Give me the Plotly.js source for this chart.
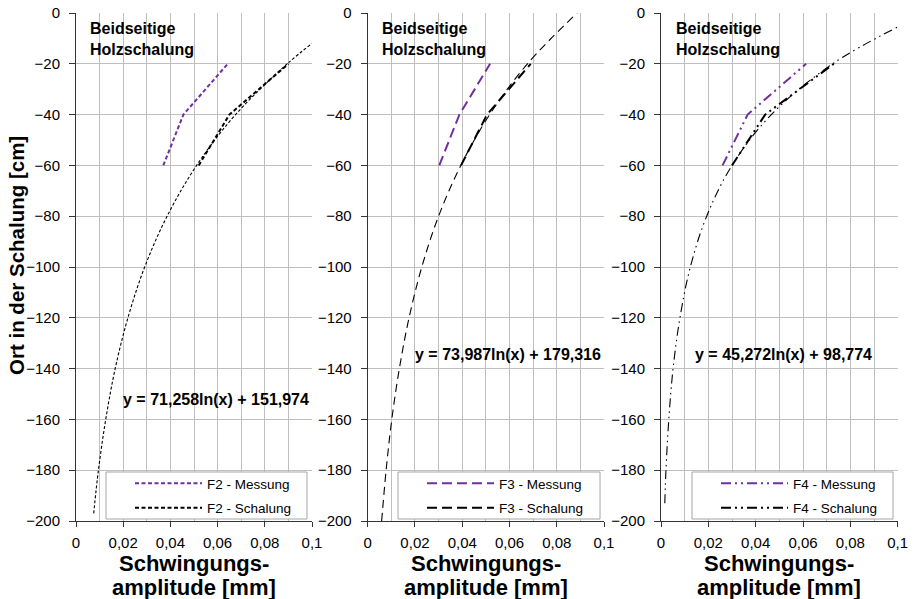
<!DOCTYPE html>
<html><head><meta charset="utf-8">
<script src="https://cdn.plot.ly/plotly-3.0.1.min.js"></script>
<style>html,body{margin:0;padding:0;background:#fff}#chart{width:914px;height:599px}</style>
</head><body><div id="chart"></div>
<script>
// ---- data ----
const depthLevels = [-60, -40, -20];          // Ort in der Schalung [cm]
const f2Messung  = [0.0370, 0.0455, 0.0643];
const f2Schalung = [0.0520, 0.0650, 0.0900];
const f3Messung  = [0.0303, 0.0388, 0.0518];
const f3Schalung = [0.0395, 0.0505, 0.0690];
const f4Messung  = [0.0260, 0.0366, 0.0613];
const f4Schalung = [0.0300, 0.0440, 0.0730];

// trend curves (log fits)
const trendF2Y = [-197, -180, -160, -140, -120, -100, -80, -60, -40, -20, -12];
const trendF2X = [0.0075, 0.0095, 0.0126, 0.0166, 0.0220, 0.0291, 0.0386, 0.0511, 0.0676, 0.0895, 0.1000];
const trendF3Y = [-200, -180, -160, -140, -120, -100, -80, -60, -40, -20, 0];
const trendF3X = [0.0059, 0.0078, 0.0102, 0.0134, 0.0175, 0.0229, 0.0300, 0.0394, 0.0516, 0.0676, 0.0886];
const trendF4Y = [-193, -180, -160, -140, -120, -100, -80, -60, -40, -20, -5.5];
const trendF4X = [0.0016, 0.0021, 0.0033, 0.0051, 0.0080, 0.0124, 0.0193, 0.0300, 0.0466, 0.0725, 0.1000];

const seriesNames = [["F2 - Messung","F2 - Schalung"],["F3 - Messung","F3 - Schalung"],["F4 - Messung","F4 - Schalung"]];
const equations = ["y = 71,258ln(x) + 151,974", "y = 73,987ln(x) + 179,316", "y = 45,272ln(x) + 98,774"];
const boxLabel = "Beidseitige<br>Holzschalung";
const xTitleLines = ["Schwingungs-", "amplitude [mm]"];
const yTitle = "Ort in der Schalung [cm]";

// ---- styling / layout ----
const W = 914, H = 599;
const FONT = "Liberation Sans, Arial, sans-serif";
const PURPLE = "#7030A0";
const px = v => v / W, py = v => 1 - v / H;
const xDom = [[px(76), px(312)], [px(367.7), px(604)], [px(661), px(897.7)]];
const yDom = [py(521), py(13)];
const dashes = [
  {data: "4px,2.5px", trend: "3px,2px"},
  {data: "10px,5px", trend: "8px,5px"},
  {data: "10px,4px,2px,4px,2px,4px", trend: "9px,4px,1.5px,4px,1.5px,4px"}
];
const mess = [f2Messung, f3Messung, f4Messung];
const schal = [f2Schalung, f3Schalung, f4Schalung];
const trX = [trendF2X, trendF3X, trendF4X];
const trY = [trendF2Y, trendF3Y, trendF4Y];

const traces = [];
const layout = {
  width: W, height: H,
  margin: {l: 0, r: 0, t: 0, b: 0},
  paper_bgcolor: "#fff", plot_bgcolor: "#fff",
  separators: ", ",
  font: {family: FONT, size: 15, color: "#000"},
  showlegend: true,
  shapes: [], annotations: []
};

const legBox = [[106, 307], [398, 600], [692, 893]];

for (let i = 0; i < 3; i++) {
  const sfx = i === 0 ? "" : String(i + 1);
  const xa = "x" + sfx, ya = "y" + sfx;
  const legName = "legend" + sfx;
  traces.push({
    x: trX[i], y: trY[i], xaxis: xa, yaxis: ya, mode: "lines",
    line: {color: "#000", width: 1.1, dash: dashes[i].trend, shape: "spline"},
    showlegend: false, hoverinfo: "skip"
  });
  traces.push({
    x: mess[i], y: depthLevels, xaxis: xa, yaxis: ya, mode: "lines",
    name: seriesNames[i][0], legend: legName, legendgroup: "m" + i,
    line: {color: PURPLE, width: 2, dash: dashes[i].data}
  });
  traces.push({
    x: schal[i], y: depthLevels, xaxis: xa, yaxis: ya, mode: "lines",
    name: seriesNames[i][1], legend: legName, legendgroup: "s" + i,
    line: {color: "#000", width: 2, dash: dashes[i].data}
  });

  layout["xaxis" + sfx] = {
    domain: xDom[i], anchor: ya, range: [0, 0.1], dtick: 0.02, tick0: 0,
    showgrid: true, gridcolor: "#bfbfbf", gridwidth: 1,
    minor: {dtick: 0.01, showgrid: true, gridcolor: "#bfbfbf", gridwidth: 1, ticks: ""},
    zeroline: false, showline: true, linecolor: "#333", linewidth: 1,
    ticks: "outside", ticklen: 5, tickcolor: "#333",
    ticklabelstandoff: 3,
    tickfont: {family: FONT, size: 15, color: "#000"},
    fixedrange: true
  };
  layout["yaxis" + sfx] = {
    domain: yDom, anchor: xa, range: [-200, 0], dtick: 20, tick0: 0,
    showgrid: true, gridcolor: "#bfbfbf", gridwidth: 1,
    zeroline: false, showline: true, linecolor: "#333", linewidth: 1,
    ticks: "outside", ticklen: 6, tickcolor: "#333",
    ticklabelstandoff: 6,
    tickfont: {family: FONT, size: 15, color: "#000"},
    fixedrange: true
  };

  layout.shapes.push({
    type: "rect", xref: "paper", yref: "paper",
    x0: px(legBox[i][0]), x1: px(legBox[i][1]), y0: py(519), y1: py(472),
    line: {color: "#a6a6a6", width: 1}, fillcolor: "#fff", layer: "above"
  });
  layout[legName] = {
    x: px(legBox[i][0] + 24), xanchor: "left", y: py(468), yanchor: "top",
    bgcolor: "rgba(0,0,0,0)", borderwidth: 0,
    font: {family: FONT, size: 13.5, color: "#000"},
    itemwidth: 67, tracegroupgap: 4, traceorder: "grouped"
  };

  const boxX = [88.3, 380, 674][i];
  layout.annotations.push({
    xref: "paper", yref: "paper", x: px(boxX), y: py(18), xanchor: "left", yanchor: "top",
    text: "<b>" + boxLabel + "</b>", align: "left", showarrow: false,
    font: {family: FONT, size: 16, color: "#000"}
  });
  const eqPos = [[121, 399], [413, 354], [693, 354]][i];
  layout.annotations.push({
    xref: "paper", yref: "paper", x: px(eqPos[0]), y: py(eqPos[1]), xanchor: "left", yanchor: "middle",
    text: "<b>" + equations[i] + "</b>", showarrow: false,
    font: {family: FONT, size: 16, color: "#000"}
  });
  // x-axis title, two lines (tight line spacing as in the reference)
  const cx = (xDom[i][0] + xDom[i][1]) / 2;
  [563, 587].forEach((yc, k) => {
    layout.annotations.push({
      xref: "paper", yref: "paper", x: cx, y: py(yc), xanchor: "center", yanchor: "middle",
      text: "<b>" + xTitleLines[k] + "</b>", showarrow: false,
      font: {family: FONT, size: 22, color: "#000"}
    });
  });
}

layout.annotations.push({
  xref: "paper", yref: "paper", x: px(16), y: py(256), xanchor: "center", yanchor: "middle",
  text: "<b>" + yTitle + "</b>", textangle: -90, showarrow: false,
  font: {family: FONT, size: 20.5, color: "#000"}
});

Plotly.newPlot("chart", traces, layout, {staticPlot: true, displayModeBar: false});
</script>
</body></html>
